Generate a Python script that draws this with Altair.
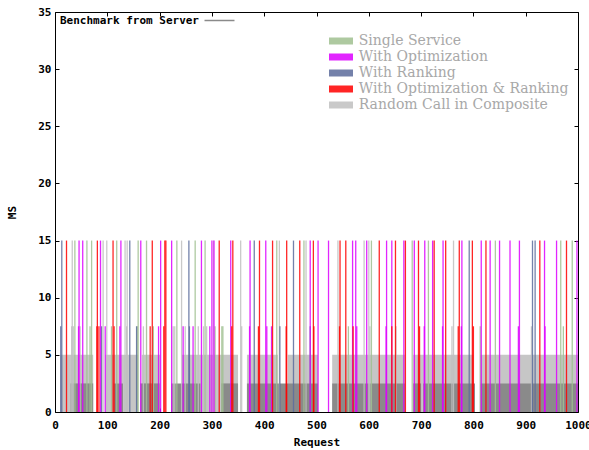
import altair as alt
import pandas as pd

series_names = ["Single Service", "With Optimization", "With Ranking",
                "With Optimization & Ranking", "Random Call in Composite"]
series_colors = ["#a0c090", "#dd00ff", "#5c6c9c", "#ff0000", "#c0c0c0"]

# request indices of impulses reaching 15 ms / 7.5 ms
single_15 = [38, 61, 70, 118, 159, 175, 233, 268, 287, 424, 476, 605, 683, 714, 842, 967, 989]
single_75 = [67, 108, 157, 188, 306, 319, 321, 561, 813, 972]
opt_15 = [46, 53, 87, 126, 164, 202, 223, 280, 300, 304, 336, 373, 403, 488, 503, 523, 569,
          575, 596, 634, 644, 667, 687, 707, 722, 742, 778, 815, 832, 850, 870, 888, 936, 959, 998]
opt_75 = [45, 96, 124, 198, 245, 264, 296, 372, 405, 414, 577, 633, 706, 741, 777, 886, 937]
rank_15 = [13, 143, 256, 381, 456, 792, 913, 918]
rank_75 = [11, 89, 156, 257, 430, 488]
optrank_15 = [22, 81, 111, 186, 210, 212, 314, 340, 391, 416, 443, 468, 494, 545, 556, 620,
              651, 670, 695, 725, 747, 773, 798, 824, 927, 978]
optrank_75 = [80, 84, 113, 182, 208, 338, 389, 442, 495, 544, 570, 644, 697, 771, 800]
random_15 = [33, 92, 99, 134, 138, 242, 303, 355, 429, 480, 541, 591, 600, 762]
random_75 = [32, 35, 48, 137, 169, 226, 229, 249, 274, 284, 290, 357, 602, 652, 759, 911]

# dense runs of low impulses (request ranges)
bench_start = [30, 112, 163, 222, 318, 367, 530, 685, 704, 813]
bench_end = [73, 130, 200, 278, 350, 503, 669, 700, 803, 1000]
bench_level = 2.5
random5_start = [10, 96, 166, 243, 367, 445, 530, 685, 813]
random5_end = [73, 159, 201, 350, 426, 503, 669, 800, 1000]
random5_level = 5

x_ticks = list(range(0, 1001, 100))
y_ticks = list(range(0, 36, 5))

rows = []
for name, l15, l75 in [
    ("Random Call in Composite", random_15, random_75),
    ("Single Service", single_15, single_75),
    ("With Ranking", rank_15, rank_75),
    ("With Optimization", opt_15, opt_75),
    ("With Optimization & Ranking", optrank_15, optrank_75),
]:
    for r in l15:
        rows.append({"series": name, "req": r, "val": 15, "base": 0})
    for r in l75:
        rows.append({"series": name, "req": r, "val": 7.5, "base": 0})
rules_df = pd.DataFrame(rows)

bench_df = pd.DataFrame({"start": bench_start, "end": bench_end,
                         "top": [bench_level] * len(bench_start), "bottom": 0,
                         "name": "Benchmark from Server"})
rand_df = pd.DataFrame({"start": random5_start, "end": random5_end,
                        "top": [random5_level] * len(random5_start), "bottom": 0})

xs = alt.Scale(domain=[0, 1000], nice=False, zero=False)
ys = alt.Scale(domain=[0, 35], nice=False)

mono = "DejaVu Sans Mono"

x_bottom = alt.Axis(values=x_ticks, format="d", title="Request", offset=-4, tickSize=4,
                    domain=False, grid=False, labelPadding=7, titlePadding=6,
                    labelFlush=False, labelOverlap=False,
                    tickColor="black", labelFont=mono, labelFontWeight="bold",
                    labelFontSize=11, titleFont=mono, titleFontWeight="bold",
                    titleFontSize=11, labelColor="black", titleColor="black")
y_left = alt.Axis(values=y_ticks, format="d", title="MS", offset=-4, tickSize=4,
                  domain=False, grid=False, labelPadding=4, titlePadding=20,
                  labelFlush=False, labelOverlap=False,
                  tickColor="black", labelFont=mono, labelFontWeight="bold",
                  labelFontSize=11, titleFont=mono, titleFontWeight="bold",
                  titleFontSize=11, labelColor="black", titleColor="black")
x_top = alt.Axis(values=x_ticks, orient="top", labels=False, title=None, offset=-4,
                 tickSize=4, domain=False, grid=False, tickColor="black")
y_right = alt.Axis(values=y_ticks, orient="right", labels=False, title=None, offset=-4,
                   tickSize=4, domain=False, grid=False, tickColor="black")

bench_legend = alt.Legend(orient="none", legendX=157, legendY=1, title=None, padding=0,
                          symbolType="M-2,-0.1L2,-0.1L2,0.1L-2,0.1Z", symbolSize=225,
                          labelAlign="right", labelOffset={"expr": "-28"},
                          labelFont=mono, labelFontWeight="bold", labelFontSize=11,
                          labelColor="black", symbolStrokeWidth=0)
main_legend = alt.Legend(orient="none", legendX=274, legendY=22, title=None, padding=0,
                         symbolType="M-2,0L2,0", symbolSize=182, symbolStrokeWidth=7,
                         labelOffset=8.75, rowPadding=2, clipHeight=14,
                         labelFont="DejaVu Serif",
                         labelFontSize=14, labelColor="#a8a8a8", labelLimit=400)

layer_rand = alt.Chart(rand_df).mark_rect(color="#c6c6c6").encode(
    x=alt.X("start:Q", scale=xs, axis=None), x2="end:Q",
    y=alt.Y("top:Q", scale=ys, axis=None), y2="bottom:Q")

layer_bench = alt.Chart(bench_df).mark_rect().encode(
    x=alt.X("start:Q", scale=xs, axis=x_bottom), x2="end:Q",
    y=alt.Y("top:Q", scale=ys, axis=y_left), y2="bottom:Q",
    color=alt.Color("name:N", scale=alt.Scale(domain=["Benchmark from Server"],
                                              range=["#8a8a8a"]), legend=bench_legend))

layer_rules = alt.Chart(rules_df).mark_rule(strokeWidth=1.3, opacity=0.85).encode(
    x=alt.X("req:Q", scale=xs, axis=x_top),
    y=alt.Y("val:Q", scale=ys, axis=y_right), y2="base:Q",
    color=alt.Color("series:N", scale=alt.Scale(domain=series_names, range=series_colors),
                    legend=main_legend))

chart = alt.layer(layer_rand, layer_bench, layer_rules).resolve_scale(
    color="independent").resolve_axis(x="independent", y="independent").properties(
    width=523, height=400,
    padding={"left": 55, "top": 12, "right": 11, "bottom": 38},
    autosize=alt.AutoSizeParams(type="none"),
    background="white",
).configure_view(stroke="black", strokeWidth=1)

chart.save("out.html", embed_options={"renderer": "svg", "actions": False})
